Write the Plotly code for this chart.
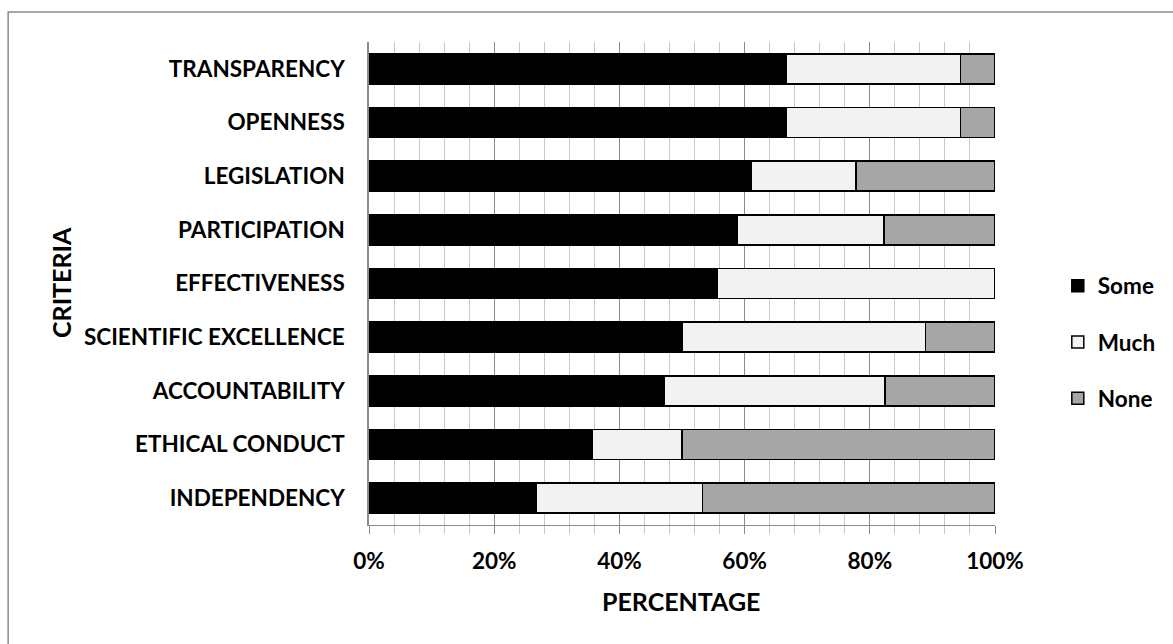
import plotly.graph_objects as go

categories = ["TRANSPARENCY", "OPENNESS", "LEGISLATION", "PARTICIPATION", "EFFECTIVENESS",
              "SCIENTIFIC EXCELLENCE", "ACCOUNTABILITY", "ETHICAL CONDUCT", "INDEPENDENCY"]
some = [0.667, 0.667, 0.611, 0.588, 0.556, 0.500, 0.471, 0.357, 0.267]
much = [0.278, 0.278, 0.167, 0.235, 0.444, 0.389, 0.353, 0.143, 0.266]
none = [0.055, 0.055, 0.222, 0.177, 0.000, 0.111, 0.176, 0.500, 0.467]

series = [("Some", some, "#000000"), ("Much", much, "#f2f2f2"), ("None", none, "#a6a6a6")]

FONT = "Lato"
TICK_SIZE = 22.5
TITLE_SIZE = 25
W, H = 1173, 644
L, R, T, B = 369, 176, 42, 119
pw, ph = W - L - R, H - T - B

fig = go.Figure()
for name, vals, col in series:
    fig.add_trace(go.Bar(
        y=categories, x=vals, name=name, orientation="h", legendgroup=name,
        marker=dict(color=col, line=dict(color="#000000", width=1.5)),
    ))

fig.update_layout(
    width=W, height=H, barmode="stack", bargap=0.44,
    margin=dict(l=L, r=R, t=T, b=B, pad=0),
    paper_bgcolor="white", plot_bgcolor="white",
    font=dict(family=FONT, size=TICK_SIZE, color="#000000"),
    showlegend=True,
    legend=dict(x=(1060 - L) / pw, y=1 - (342 - T) / ph, xanchor="left", yanchor="middle",
                font=dict(family=FONT, size=TICK_SIZE, color="#000000", weight="bold"),
                traceorder="grouped", itemwidth=30, tracegroupgap=24,
                bgcolor="rgba(0,0,0,0)"),
    xaxis=dict(range=[0, 1], dtick=0.2, tickformat=".0%",
               showgrid=True, gridcolor="#8c8c8c", gridwidth=1,
               ticks="outside", ticklen=8, tickcolor="#8c8c8c",
               minor=dict(dtick=0.04, showgrid=True, gridcolor="#c8c8c8", gridwidth=1,
                          ticks="outside", ticklen=8, tickcolor="#c8c8c8"),
               showline=True, linecolor="#8c8c8c", linewidth=1,
               ticklabelstandoff=8,
               tickfont=dict(family=FONT, size=TICK_SIZE, weight="bold"),
               zeroline=False, fixedrange=True),
    yaxis=dict(autorange="reversed", showline=True, linecolor="#8c8c8c", linewidth=1.5,
               ticks="", ticklabelstandoff=18,
               tickfont=dict(family=FONT, size=TICK_SIZE, weight="bold"),
               showgrid=False, fixedrange=True),
    annotations=[
        dict(text="<b>PERCENTAGE</b>", xref="paper", yref="paper",
             x=(682 - L) / pw, y=-(601 - (T + ph)) / ph, xanchor="center", yanchor="middle",
             showarrow=False, font=dict(family=FONT, size=TITLE_SIZE)),
        dict(text="<b>CRITERIA</b>", xref="paper", yref="paper",
             x=-(L - 60) / pw, y=1 - (282 - T) / ph, xanchor="center", yanchor="middle",
             textangle=-90, showarrow=False, font=dict(family=FONT, size=TITLE_SIZE)),
    ],
    shapes=[dict(type="rect", xref="paper", yref="paper",
                 x0=-(L - 7) / pw, x1=1 + (1185 - (L + pw)) / pw,
                 y0=-(660 - (T + ph)) / ph, y1=1 + (T - 12) / ph,
                 line=dict(color="#8c8c8c", width=1.5), layer="below")],
)

fig.write_html("out.html")
